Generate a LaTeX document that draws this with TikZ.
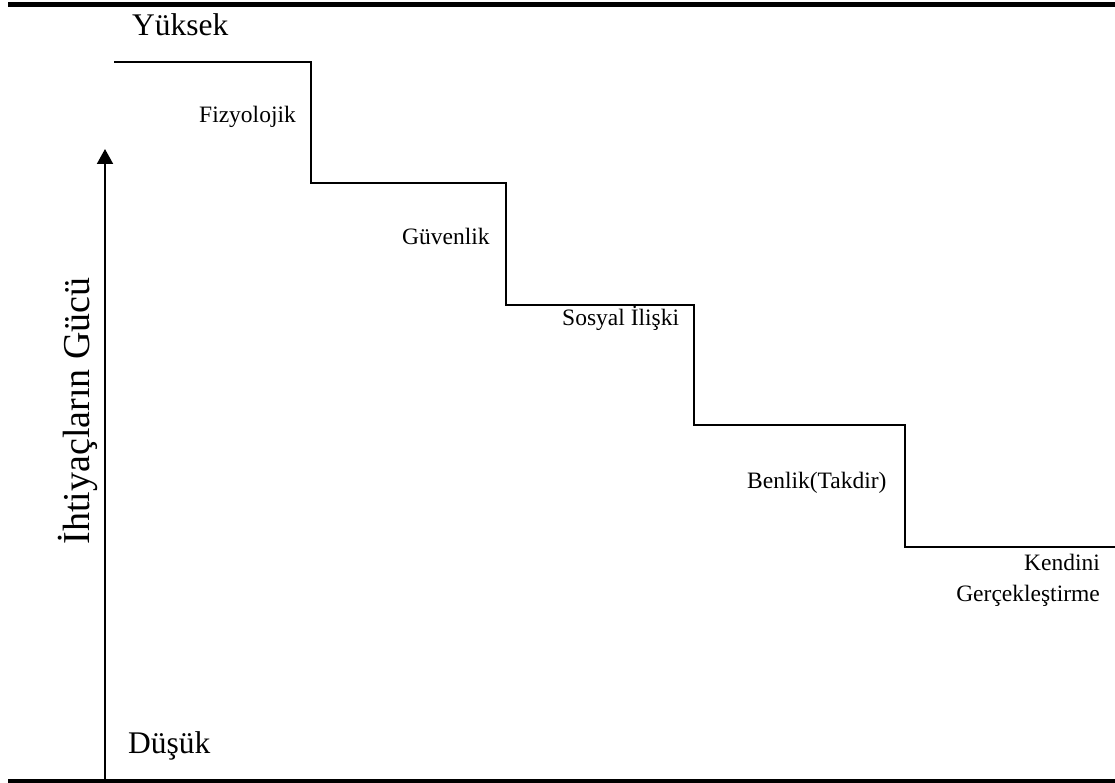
\documentclass[tikz,border=0pt]{standalone}
\usepackage{fontspec}
\setmainfont{Liberation Serif}
\usetikzlibrary{arrows.meta}
\tikzset{
  bar/.style={line width=5pt},
  stair/.style={line width=2.5pt, line join=miter},
  big/.style={inner sep=0pt, font=\fontsize{31.5}{36}\selectfont},
  small/.style={inner sep=0pt, font=\fontsize{23.5}{28}\selectfont},
  axis/.style={line width=2pt, -{Triangle[width=16pt,length=15pt]}}
}
\begin{document}
\begin{tikzpicture}[x=1pt,y=-1pt]
\useasboundingbox (0,0) rectangle (1115,783);
% frame bars
\draw[bar] (8,4.5) -- (1115,4.5);
\draw[bar] (8,781) -- (1115,781);
% staircase
\draw[stair] (114,62) -- (311,62) -- (311,183) -- (506,183) -- (506,305)
  -- (694,305) -- (694,425) -- (905,425) -- (905,547) -- (1115,547);
% axis arrow
\coordinate (abot) at (105,781);
\coordinate (atop) at (105,149);
\draw[axis] (abot) -- (atop);
% labels
\node[big, anchor=base west] (yuksek) at (132,36) {Yüksek};
\node[big, anchor=base west] (dusuk) at (128,753) {Düşük};
\node[font=\fontsize{38}{44}\selectfont, inner sep=0pt, rotate=90] (guc) at (78,411) {İhtiyaçların Gücü};
\node[small, anchor=base west] (fiz) at (199,123) {Fizyolojik};
\node[small, anchor=base west] (guv) at (402,245) {Güvenlik};
\node[small, anchor=base west] (sos) at (562,325) {Sosyal İlişki};
\node[small, anchor=base west] (ben) at (747,488) {Benlik(Takdir)};
\node[small, anchor=base east] (ken) at (1100,570) {Kendini};
\node[small, anchor=base east] (ger) at (1100,601) {Gerçekleştirme};
\end{tikzpicture}
\end{document}
